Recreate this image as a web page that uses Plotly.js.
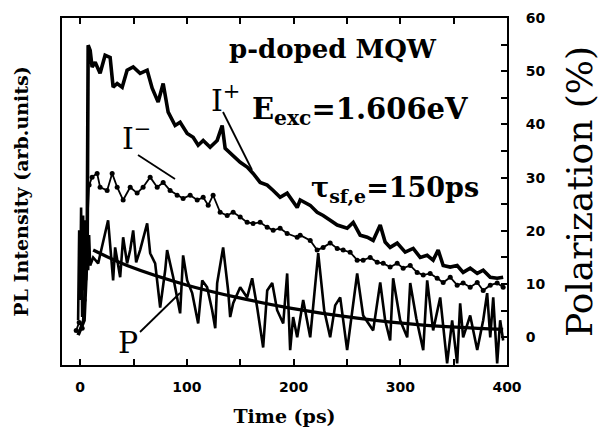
<!DOCTYPE html>
<html>
<head>
<meta charset="utf-8">
<script src="https://cdn.plot.ly/plotly-3.0.1.min.js"></script>
<style>html,body{margin:0;padding:0;background:#fff}#chart{width:606px;height:438px}</style>
</head>
<body>
<div id="chart"></div>
<script>
// I+ (sigma+ PL intensity, arb. units)
const tPlus = [-1.9,3.7,6.6,7.5,9.4,11.2,14.1,18.7,23.4,28.1,30.9,34.7,39.4,44.0,49.7,56.2,62.8,67.5,73.1,77.8,82.5,89.0,93.7,100.3,105.9,110.6,115.3,121.8,128.4,133.1,135.9,142.5,150.0,156.5,162.1,168.7,175.3,180.9,187.4,194.0,203.4,206.2,215.6,222.1,227.7,234.3,240.9,250.2,255.9,262.4,269.0,274.6,281.2,285.8,290.5,297.1,304.6,312.1,318.7,325.2,330.8,335.5,340.2,346.8,353.3,358.9,365.5,372.1,377.7,384.3,390.8,396.4];
const iPlus = [0.4,3.2,16.4,54.9,53.9,50.8,51.7,49.6,53.0,52.6,47.0,47.7,47.0,50.2,50.8,49.6,50.2,46.8,44.2,47.7,42.3,39.8,40.4,38.3,37.6,36.1,37.0,35.7,37.0,39.8,35.5,34.2,32.9,32.0,30.8,29.1,28.6,27.6,26.3,27.1,24.4,25.8,24.8,23.5,22.9,22.0,21.1,20.5,21.6,19.2,18.8,18.2,21.1,17.9,16.9,17.7,16.0,16.7,15.0,15.4,14.5,16.4,13.5,13.2,13.5,12.2,13.0,12.0,12.6,11.3,11.1,11.3];

// I- (sigma- PL intensity, arb. units)
const tMinus = [-3.7,-0.9,1.9,3.7,8.4,11.2,15.9,18.7,25.3,30.0,34.7,40.3,46.9,53.4,59.0,65.6,72.2,77.8,84.3,90.9,96.5,103.1,109.7,115.3,120.0,124.6,131.2,137.8,143.4,150.0,156.5,162.1,168.7,175.3,180.9,187.4,194.0,203.4,206.2,215.6,222.1,227.7,234.3,240.9,246.5,253.0,259.6,265.2,271.8,278.4,284.0,290.5,297.1,302.7,309.3,315.8,321.5,328.0,334.6,340.2,346.8,353.3,358.9,365.5,372.1,377.7,384.3,390.8,396.4];
const iMinus = [1.3,2.8,1.7,7.0,28.6,30.1,30.8,28.2,27.6,30.8,28.2,25.8,28.2,27.1,28.2,30.1,28.2,29.1,27.6,26.7,26.1,26.7,25.8,26.3,24.8,26.7,23.5,22.9,23.5,22.6,21.6,21.4,21.6,20.7,20.1,20.5,19.5,18.8,19.2,18.2,16.4,16.9,17.7,16.7,16.4,16.0,14.5,14.5,15.0,14.1,13.9,13.2,13.9,13.0,13.5,12.2,11.7,12.0,11.1,10.3,11.3,9.8,10.2,9.4,10.3,8.8,9.8,10.2,9.4];

// P (circular polarization, %)
const tPol = [-1.9,-0.9,0,0.9,1.9,2.8,3.7,4.7,5.6,6.6,7.5,8.4,9.4,12.2,16.9,21.6,26.2,30.9,32.8,37.5,40.3,44.0,46.9,49.7,52.5,56.2,62.8,65.6,70.3,75.0,79.7,81.5,87.2,93.7,96.5,100.3,105.0,110.6,114.4,119.0,123.7,126.6,128.4,134.0,138.7,140.6,143.4,150.0,156.5,161.2,165.9,171.5,175.3,180.0,184.6,190.3,194.0,196.8,199.6,203.4,209.0,215.6,223.1,228.7,234.3,239.0,243.7,250.2,254.9,259.6,265.2,274.6,281.2,285.8,290.5,293.3,299.9,306.5,309.3,315.0,321.5,325.2,330.8,337.4,343.9,348.6,353.3,356.1,358.9,365.5,372.1,377.7,381.4,384.3,387.1,390.8,393.6,396.4];
const polP = [3.2,20.1,7.0,24.4,3.8,22.9,8.8,22.0,10.7,21.1,12.6,19.2,13.5,15.0,13.9,17.7,22.0,10.7,16.9,11.3,18.8,13.9,16.4,20.1,14.1,16.4,21.4,15.8,13.9,5.6,12.6,16.4,11.3,4.5,15.4,10.7,8.3,2.6,10.7,9.4,5.1,1.7,10.2,16.9,8.8,3.8,6.4,9.4,7.5,11.1,5.6,-1.9,8.8,10.2,5.1,2.6,12.0,-2.4,3.8,0,7.0,0,15.8,5.1,0,6.0,7.5,-2.4,5.1,12.0,4.1,1.3,10.3,3.2,-0.6,11.1,3.2,0,10.2,3.6,-2.4,10.7,1.3,7.5,-4.9,3.2,-4.9,6.4,0,4.1,-2.4,3.2,8.3,0,7.5,-4.9,3.2,-0.6];

// Fit of P (tau_sf,e = 150 ps)
const tFit = [12.2,44.0,100.3,147.1,196.8,259.6,321.5,396.4];
const polFit = [16.4,13.5,9.8,7.5,5.5,3.6,2.3,1.5];

const xTickVals = [0,100,200,300,400];
const xTickText = ['0','100','200','300','400'];
const yTickVals = [0,10,20,30,40,50,60];
const yTickText = ['0','10','20','30','40','50','60'];

const serif = 'DejaVu Serif, serif';
const sans = 'DejaVu Sans, sans-serif';

const traces = [
  {x: tPlus, y: iPlus, yaxis: 'y', mode: 'lines', name: 'I+',
   line: {color: '#000', width: 3.6}},
  {x: tMinus, y: iMinus, yaxis: 'y', mode: 'lines+markers', name: 'I-',
   line: {color: '#000', width: 1.8},
   marker: {color: '#000', size: 5, symbol: 'circle'}},
  {x: tPol, y: polP, yaxis: 'y2', mode: 'lines', name: 'P',
   line: {color: '#000', width: 2.6}},
  {x: tFit, y: polFit, yaxis: 'y2', mode: 'lines', name: 'fit',
   line: {color: '#000', width: 3.2, shape: 'spline'}}
];

const px = v => (v - 62) / 445;
const py = v => (365 - v) / 347;

const layout = {
  width: 606, height: 438,
  margin: {l: 62, r: 99, t: 18, b: 73},
  paper_bgcolor: '#fff', plot_bgcolor: '#fff',
  showlegend: false,
  font: {family: serif, color: '#000'},
  xaxis: {
    range: [-17, 400], showgrid: false, zeroline: false,
    showline: true, linecolor: '#000', linewidth: 2, mirror: 'ticks',
    ticks: 'inside', ticklen: 6, tickwidth: 2, tickcolor: '#000',
    tickvals: xTickVals, ticktext: xTickText,
    minor: {tickvals: [50,150,250,350], ticks: 'inside', ticklen: 6, tickwidth: 2, tickcolor: '#000'},
    tickfont: {family: sans, size: 14, weight: 'bold', color: '#000'},
    ticklabelstandoff: 8,
    title: {text: 'Time (ps)', font: {family: serif, size: 19, weight: 'bold', color: '#000'}, standoff: 16}
  },
  yaxis: {
    range: [-5.2, 60], showgrid: false, zeroline: false,
    showline: true, linecolor: '#000', linewidth: 2,
    ticks: '', showticklabels: false,
    title: {text: 'PL Intensity (arb.units)', font: {family: serif, size: 19, weight: 'bold', color: '#000'}, standoff: 26}
  },
  yaxis2: {
    range: [-5.2, 60], overlaying: 'y', side: 'right',
    showgrid: false, zeroline: false,
    showline: true, linecolor: '#000', linewidth: 2,
    ticks: 'inside', ticklen: 6, tickwidth: 2, tickcolor: '#000',
    tickvals: yTickVals, ticktext: yTickText,
    minor: {tickvals: [5,15,25,35,45,55], ticks: 'inside', ticklen: 6, tickwidth: 2, tickcolor: '#000'},
    tickfont: {family: sans, size: 14, weight: 'bold', color: '#000'},
    ticklabelstandoff: 14,
    title: {text: 'Polarization (%)', font: {family: serif, size: 36, color: '#000'}, standoff: 22}
  },
  annotations: [
    {xref: 'paper', yref: 'paper', x: px(333), y: py(49), text: 'p-doped MQW', showarrow: false,
     xanchor: 'center', yanchor: 'middle', font: {family: serif, size: 26, weight: 'bold'}},
    {xref: 'paper', yref: 'paper', x: px(209), y: py(98), text: 'I<sup>+</sup>', showarrow: false,
     xanchor: 'left', yanchor: 'middle', font: {family: serif, size: 30}},
    {xref: 'paper', yref: 'paper', x: px(250), y: py(111), text: 'E<sub>exc</sub>=1.606eV', showarrow: false,
     xanchor: 'left', yanchor: 'middle', font: {family: serif, size: 29, weight: 'bold'}},
    {xref: 'paper', yref: 'paper', x: px(309), y: py(189), text: '\u03c4<sub>sf,e</sub>=150ps', showarrow: false,
     xanchor: 'left', yanchor: 'middle', font: {family: serif, size: 27, weight: 'bold'}},
    {xref: 'paper', yref: 'paper', x: px(120), y: py(136), text: 'I<sup>\u2212</sup>', showarrow: false,
     xanchor: 'left', yanchor: 'middle', font: {family: serif, size: 30}},
    {xref: 'paper', yref: 'paper', x: px(128), y: py(342), text: 'P', showarrow: false,
     xanchor: 'center', yanchor: 'middle', font: {family: serif, size: 30}}
  ],
  shapes: [
    {type: 'line', xref: 'paper', yref: 'paper', x0: px(223), y0: py(112), x1: px(252), y1: py(170), line: {color: '#000', width: 1.8}},
    {type: 'line', xref: 'paper', yref: 'paper', x0: px(138), y0: py(155), x1: px(175), y1: py(179), line: {color: '#000', width: 1.8}},
    {type: 'line', xref: 'paper', yref: 'paper', x0: px(140), y0: py(332), x1: px(180), y1: py(293), line: {color: '#000', width: 1.8}}
  ]
};

Plotly.newPlot('chart', traces, layout, {staticPlot: true, displayModeBar: false});
</script>
</body>
</html>
